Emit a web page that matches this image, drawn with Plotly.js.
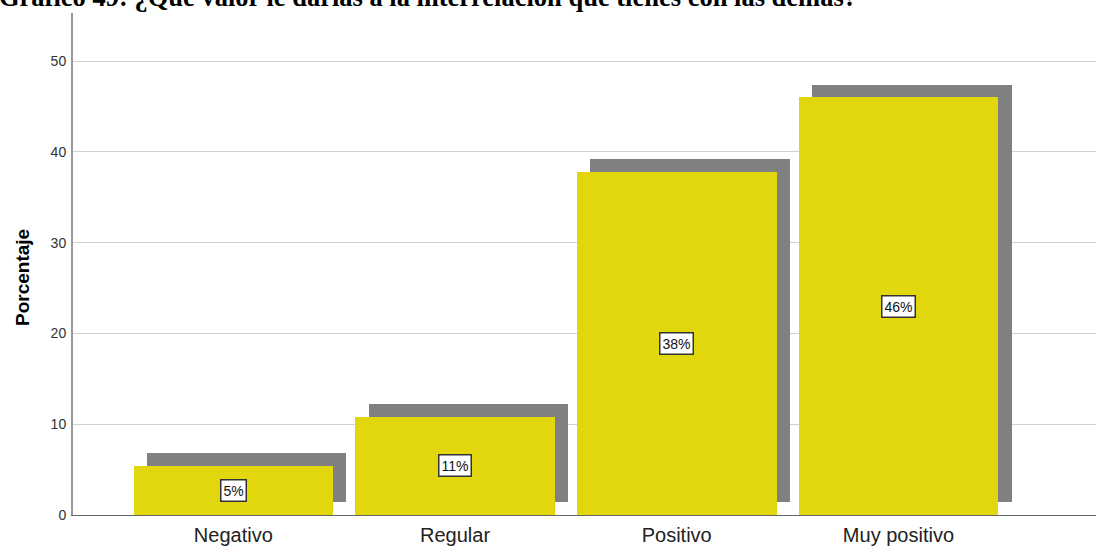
<!DOCTYPE html>
<html>
<head>
<meta charset="utf-8">
<script src="https://cdn.plot.ly/plotly-3.0.1.min.js"></script>
<style>html,body{margin:0;padding:0;background:#fff;}#chart{width:1096px;height:546px;}</style>
</head>
<body>
<div id="chart"></div>
<script>
const categories = ["Negativo", "Regular", "Positivo", "Muy positivo"];
const percentages = [5.4, 10.8, 37.8, 46.0];
const valueLabels = ["5%", "11%", "38%", "46%"];
const titleText = "Gráfico 49: ¿Qué valor le darías a la interrelación que tienes con las demás?";
const yTitle = "Porcentaje";
const yTicks = [0, 10, 20, 30, 40, 50];

const idx = categories.map((c, i) => i);
const shadowDx = 0.06, shadowDy = 1.4;

const shadow = {
  type: "bar", x: idx.map(i => i + shadowDx), y: percentages, base: shadowDy,
  width: 0.9, marker: {color: "#808080", line: {width: 0}}, hoverinfo: "skip", showlegend: false
};
const bars = {
  type: "bar", x: idx, y: percentages, width: 0.9,
  marker: {color: "#E2D60D", line: {width: 0}}, showlegend: false
};

const annotations = idx.map(i => ({
  x: i, y: percentages[i] / 2, xref: "x", yref: "y", text: valueLabels[i], showarrow: false,
  font: {family: "Liberation Sans, Arial, sans-serif", size: 14, color: "#111"},
  bgcolor: "#fff", bordercolor: "#333", borderwidth: 1.5, borderpad: 2
}));
annotations.push({
  xref: "paper", yref: "paper", x: -0.0743, y: 1.031, xanchor: "left", yanchor: "middle",
  text: "<b>" + titleText + "</b>", showarrow: false,
  font: {family: "Liberation Serif, Times New Roman, serif", size: 26.5, color: "#000"}
});
annotations.push({
  xref: "paper", yref: "paper", x: -0.0499, y: 0.474, xanchor: "center", yanchor: "middle",
  text: "<b>" + yTitle + "</b>", textangle: -90, showarrow: false,
  font: {family: "Liberation Sans, Arial, sans-serif", size: 19, color: "#000"}
});

const layout = {
  width: 1096, height: 546,
  margin: {l: 73, r: 0, t: 13, b: 31, pad: 0},
  paper_bgcolor: "#fff", plot_bgcolor: "#fff",
  barmode: "overlay", bargap: 0,
  xaxis: {
    range: [-0.723, 3.891], tickvals: idx, ticktext: categories, showgrid: false, zeroline: false,
    showline: true, linecolor: "#666", linewidth: 1, ticks: "", ticklabelstandoff: 2,
    tickfont: {family: "Liberation Sans, Arial, sans-serif", size: 20, color: "#222"}
  },
  yaxis: {
    range: [0, 55.3], tickvals: yTicks, showgrid: true, gridcolor: "#d0d0d0", gridwidth: 1,
    zeroline: false, showline: true, linecolor: "#999", linewidth: 2, ticks: "", ticklabelstandoff: 2,
    tickfont: {family: "Liberation Sans, Arial, sans-serif", size: 14, color: "#333"}
  },
  annotations: annotations
};

Plotly.newPlot("chart", [shadow, bars], layout, {displayModeBar: false, staticPlot: true});
</script>
</body>
</html>
